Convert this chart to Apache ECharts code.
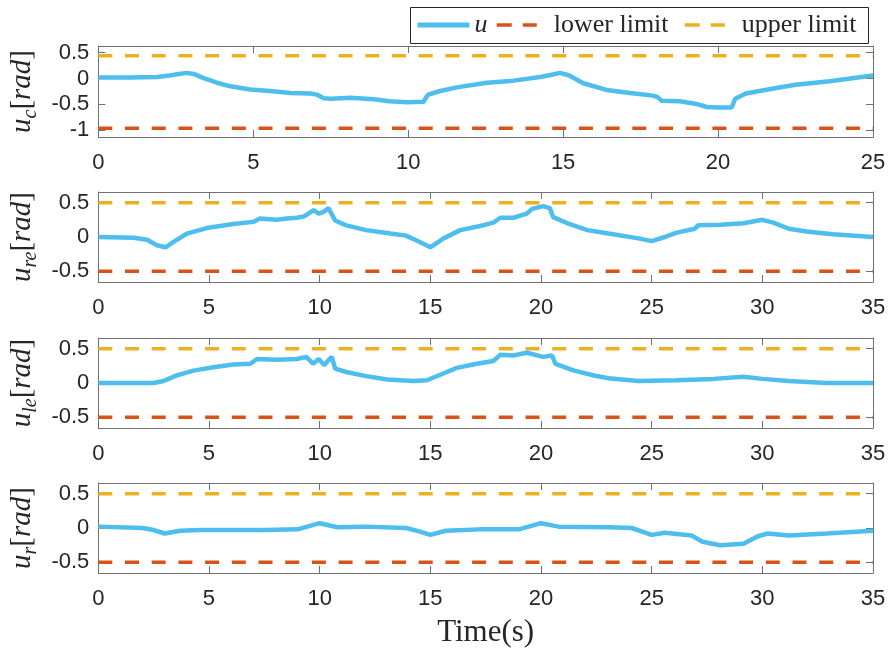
<!DOCTYPE html>
<html><head><meta charset="utf-8">
<script src="https://cdn.jsdelivr.net/npm/echarts@6/dist/echarts.min.js"></script>
<style>html,body{margin:0;padding:0;background:#fff}#c{width:889px;height:650px}</style>
</head><body><div id="c"></div>
<script>
// ---------- data ----------
const xMaxC = 25, xMaxO = 35;
const yTicksC = [-1, -0.5, 0, 0.5];
const yTicksO = [-0.5, 0, 0.5];
const yRangeC = [-1.13, 0.63];
const yRangeO = [-0.655, 0.655];
const lowerC = -0.96, upperC = 0.44;
const lowerO = -0.5, upperO = 0.5;

const tC = [0,1,1.9,2.3,2.6,2.86,3.08,3.4,3.83,4.26,4.9,5.55,6.2,6.84,7.05,7.27,7.5,8.13,8.88,9.4,9.96,10.5,10.58,10.65,11.03,11.57,12.54,13.4,14.26,14.6,14.9,15.2,15.65,16.4,17.16,17.9,18.05,18.18,18.77,19.3,19.64,20.0,20.44,20.5,20.55,20.9,21.7,22.5,23.6,25];
const uC = [0.02,0.02,0.03,0.06,0.09,0.11,0.09,0.01,-0.08,-0.15,-0.21,-0.24,-0.28,-0.29,-0.31,-0.38,-0.39,-0.37,-0.40,-0.44,-0.46,-0.45,-0.36,-0.31,-0.24,-0.17,-0.08,-0.04,0.03,0.07,0.11,0.06,-0.09,-0.22,-0.28,-0.33,-0.36,-0.43,-0.44,-0.49,-0.55,-0.56,-0.56,-0.47,-0.39,-0.29,-0.2,-0.12,-0.05,0.06];

const tRE = [0,1.6,2.2,2.65,3.03,3.4,4.0,4.9,6.1,7.0,7.3,8.07,8.5,8.97,9.3,9.73,9.96,10.2,10.4,10.55,10.7,11.2,12.1,13.2,13.9,14.5,15.0,15.6,16.35,17.25,17.85,18.16,18.75,19.36,19.6,20.1,20.4,20.55,21.2,22.1,23.05,24.4,25.0,25.6,26.1,26.95,27.1,28.1,29.15,30.0,30.5,31.2,32.0,33.2,35];
const uRE = [0.0,-0.01,-0.04,-0.12,-0.15,-0.07,0.05,0.13,0.19,0.22,0.27,0.25,0.27,0.28,0.30,0.39,0.34,0.37,0.42,0.33,0.24,0.17,0.10,0.05,0.02,-0.07,-0.15,-0.02,0.10,0.16,0.21,0.28,0.28,0.34,0.41,0.45,0.42,0.29,0.20,0.10,0.05,-0.02,-0.06,0.0,0.06,0.12,0.17,0.18,0.20,0.25,0.21,0.12,0.08,0.04,0.0];

const tLE = [0,2.5,2.95,3.55,4.3,5.2,6.1,6.87,7.17,8.07,8.97,9.4,9.7,9.96,10.2,10.4,10.55,10.7,11.2,12.1,13.05,14.24,14.85,15.45,16.2,17.1,17.85,18.15,18.75,19.36,20.1,20.5,20.65,21.5,22.4,23.05,24.4,26.1,27.8,29.15,30.0,31.2,32.9,35];
const uLE = [0.0,0.0,0.03,0.11,0.18,0.23,0.27,0.28,0.35,0.34,0.35,0.38,0.28,0.35,0.26,0.33,0.38,0.21,0.16,0.10,0.05,0.03,0.04,0.12,0.22,0.28,0.32,0.41,0.40,0.44,0.38,0.40,0.28,0.18,0.11,0.07,0.03,0.04,0.06,0.09,0.06,0.03,0.0,0.0];

const tR = [0,2.0,2.5,3.0,3.7,4.6,7.6,9.0,10.0,10.8,12.0,13.9,14.5,15.0,15.7,17.2,19.0,20.0,20.8,23.05,24.1,25.0,25.6,26.8,27.3,28.1,29.15,29.8,30.25,31.2,32.9,35];
const uR = [0.02,0.0,-0.03,-0.08,-0.04,-0.03,-0.03,-0.02,0.07,0.01,0.02,0.0,-0.05,-0.1,-0.04,-0.02,-0.02,0.07,0.02,0.01,0.0,-0.1,-0.07,-0.11,-0.2,-0.25,-0.23,-0.12,-0.08,-0.11,-0.08,-0.04];

const panels = [
  {t: tC, u: uC, xMax: xMaxC, yr: yRangeC, yt: yTicksC, lo: lowerC, hi: upperC, sub: 'c'},
  {t: tRE, u: uRE, xMax: xMaxO, yr: yRangeO, yt: yTicksO, lo: lowerO, hi: upperO, sub: 're'},
  {t: tLE, u: uLE, xMax: xMaxO, yr: yRangeO, yt: yTicksO, lo: lowerO, hi: upperO, sub: 'le'},
  {t: tR, u: uR, xMax: xMaxO, yr: yRangeO, yt: yTicksO, lo: lowerO, hi: upperO, sub: 'r'}
];

// ---------- layout / style ----------
const layout = [{top: 46, height: 91}, {top: 192, height: 90}, {top: 338, height: 90}, {top: 483, height: 90}];
const BLUE = '#4DBEEE', ORANGE = '#D95319', YELLOW = '#EDB120';
const AX = '#707070', TXT = '#262626';
const SANS = 'Liberation Sans, Arial, sans-serif';
const SERIF = 'Liberation Serif, Times New Roman, serif';
const DASH = [14, 12.7];

const grid = [], xAxis = [], yAxis = [], series = [];
panels.forEach((p, i) => {
  grid.push({left: 98, right: 16, top: layout[i].top, height: layout[i].height});
  const axLine = {show: true, onZero: false, lineStyle: {color: AX, width: 1}};
  const tick = {show: true, inside: true, length: 7, lineStyle: {color: AX, width: 1}};
  xAxis.push({
    type: 'value', gridIndex: i, min: 0, max: p.xMax, interval: 5, position: 'bottom',
    axisLine: axLine, axisTick: tick, splitLine: {show: false},
    axisLabel: {show: true, margin: 15, color: TXT, fontFamily: SANS, fontSize: 22},
    name: i === 3 ? 'Time(s)' : '', nameLocation: 'middle', nameGap: 44,
    nameTextStyle: {fontFamily: SERIF, fontSize: 31, color: TXT}
  });
  xAxis.push({
    type: 'value', gridIndex: i, min: 0, max: p.xMax, interval: 5, position: 'top',
    axisLine: axLine, axisTick: tick, splitLine: {show: false}, axisLabel: {show: false}
  });
  yAxis.push({
    type: 'value', gridIndex: i, min: p.yr[0], max: p.yr[1], position: 'left',
    axisLine: axLine, axisTick: Object.assign({customValues: p.yt}, tick), splitLine: {show: false},
    axisLabel: {show: true, customValues: p.yt, margin: 9, color: TXT, fontFamily: SANS, fontSize: 22},
    name: '{u|u}{s|' + p.sub + '}{b|[}{u|rad}{b|]}', nameLocation: 'middle', nameRotate: 90, nameGap: 56,
    nameTextStyle: {
      rich: {
        u: {fontFamily: SERIF, fontStyle: 'italic', fontSize: 29, lineHeight: 36, color: TXT},
        b: {fontFamily: SERIF, fontSize: 29, lineHeight: 36, color: TXT},
        s: {fontFamily: SERIF, fontStyle: 'italic', fontSize: 20, lineHeight: 20, verticalAlign: 'bottom', color: TXT}
      }
    }
  });
  yAxis.push({
    type: 'value', gridIndex: i, min: p.yr[0], max: p.yr[1], position: 'right',
    axisLine: axLine, axisTick: Object.assign({customValues: p.yt}, tick), splitLine: {show: false},
    axisLabel: {show: false}
  });
  series.push({
    name: 'u', type: 'line', xAxisIndex: 2 * i, yAxisIndex: 2 * i, symbol: 'none',
    data: p.t.map((t, k) => [t, p.u[k]]), lineStyle: {color: BLUE, width: 4.5}, itemStyle: {color: BLUE}, z: 3
  });
  series.push({
    name: 'lower limit', type: 'line', xAxisIndex: 2 * i, yAxisIndex: 2 * i, symbol: 'none',
    data: [[0, p.lo], [p.xMax, p.lo]], lineStyle: {color: ORANGE, width: 3.5, type: DASH}, itemStyle: {color: ORANGE}, z: 2
  });
  series.push({
    name: 'upper limit', type: 'line', xAxisIndex: 2 * i, yAxisIndex: 2 * i, symbol: 'none',
    data: [[0, p.hi], [p.xMax, p.hi]], lineStyle: {color: YELLOW, width: 3.5, type: DASH}, itemStyle: {color: YELLOW}, z: 2
  });
});

const legTxt = {fontFamily: SERIF, fontSize: 26, color: TXT};
const hideSym = {opacity: 0};
const option = {
  animation: false,
  backgroundColor: '#fff',
  graphic: [{type: 'rect', left: 410, top: 7, z: 0,
    shape: {width: 458, height: 36}, style: {fill: '#fff', stroke: '#262626', lineWidth: 1}}],
  legend: [
    {data: ['u'], left: 415, top: 12, padding: 0, itemWidth: 52, itemHeight: 20, z: 5, selectedMode: false,
      itemStyle: hideSym,
      textStyle: Object.assign({}, legTxt, {fontStyle: 'italic'}), lineStyle: {width: 5}},
    {data: ['lower limit'], left: 495, top: 12, padding: 0, itemWidth: 40, itemHeight: 20, z: 5, selectedMode: false,
      itemStyle: hideSym,
      textStyle: Object.assign({}, legTxt, {padding: [0, 0, 0, 12]}), lineStyle: {width: 3.5, type: [15, 11]}},
    {data: ['upper limit'], left: 683, top: 12, padding: 0, itemWidth: 40, itemHeight: 20, z: 5, selectedMode: false,
      itemStyle: hideSym,
      textStyle: Object.assign({}, legTxt, {padding: [0, 0, 0, 12]}), lineStyle: {width: 3.5, type: [15, 11]}}
  ],
  grid, xAxis, yAxis, series
};
const chart = echarts.init(document.getElementById('c'), null, {renderer: 'canvas'});
chart.setOption(option);
</script></body></html>
